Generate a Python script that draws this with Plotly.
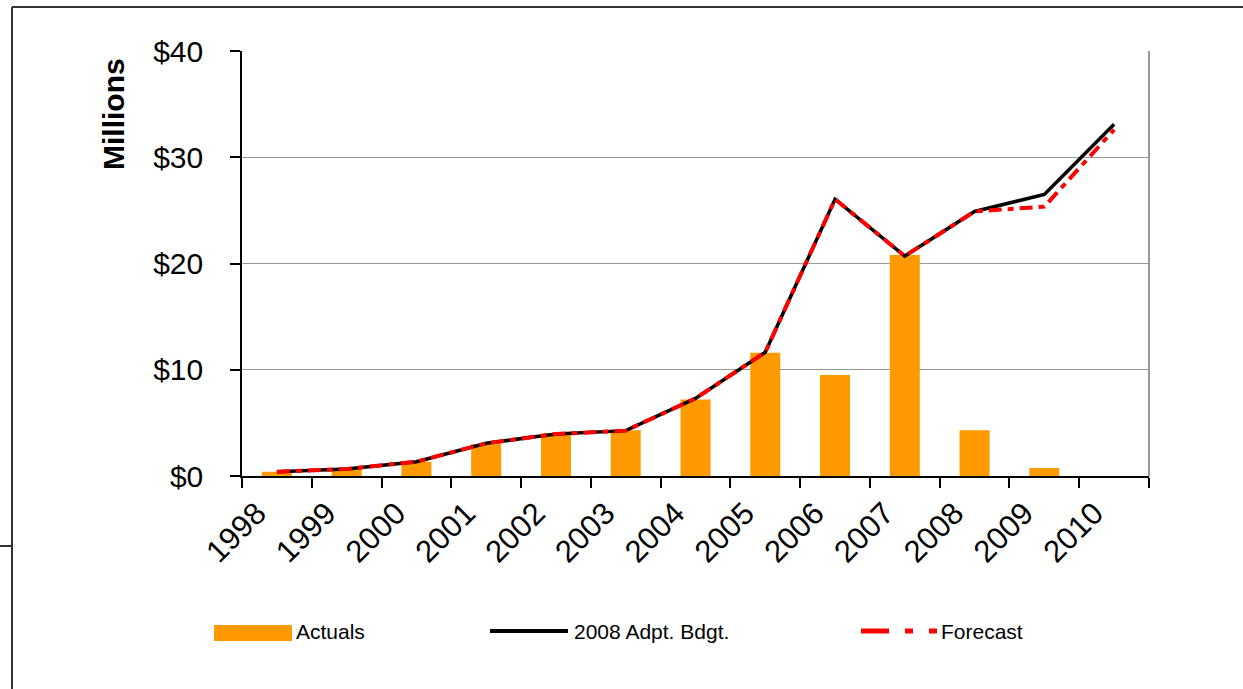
import plotly.graph_objects as go

years = ["1998", "1999", "2000", "2001", "2002", "2003", "2004",
         "2005", "2006", "2007", "2008", "2009", "2010"]
actuals = [0.4, 0.72, 1.35, 3.0, 4.0, 4.3, 7.2, 11.6, 9.5, 20.8, 4.3, 0.75, None]
budget = [0.41, 0.66, 1.35, 3.08, 3.95, 4.27, 7.3, 11.65, 26.05, 20.7, 24.9, 26.5, 33.1]
forecast = [0.41, 0.66, 1.35, 3.08, 3.95, 4.27, 7.3, 11.65, 26.05, 20.7, 24.9, 25.35, 32.6]
y_ticks = [0, 10, 20, 30, 40]
y_ticktext = ["$0", "$10", "$20", "$30", "$40"]

W, H = 1243, 689
L, R, T, B = 242, 94, 51, 213
PW, PH = W - L - R, H - T - B

def px(x):
    return (x - L) / PW

def py(y):
    return (H - B - y) / PH

FONT = "Liberation Sans, Arial, sans-serif"
ORANGE = "#FF9900"

fig = go.Figure()
fig.add_trace(go.Bar(x=years, y=actuals, name="Actuals", marker_color=ORANGE,
                     marker_line_width=0))
fig.add_trace(go.Scatter(x=years, y=budget, name="2008 Adpt. Bdgt.", mode="lines",
                         line=dict(color="black", width=3.5)))
fig.add_trace(go.Scatter(x=years, y=forecast, name="Forecast", mode="lines",
                         line=dict(color="#FF0000", width=4, dash="13px,6px,6px,6px")))

shapes = []
# outer frame (left and top)
shapes.append(dict(type="line", xref="paper", yref="paper", x0=px(12), x1=px(12),
                   y0=py(7), y1=py(700), line=dict(color="#333333", width=2)))
shapes.append(dict(type="line", xref="paper", yref="paper", x0=px(12), x1=px(1250),
                   y0=py(7), y1=py(7), line=dict(color="#333333", width=2)))
shapes.append(dict(type="line", xref="paper", yref="paper", x0=px(0), x1=px(12),
                   y0=py(546), y1=py(546), line=dict(color="#333333", width=2)))
# right border of plot area (gray)
shapes.append(dict(type="line", xref="paper", yref="paper", x0=1, x1=1,
                   y0=0, y1=1, line=dict(color="#999999", width=2)))
# legend symbols
shapes.append(dict(type="rect", xref="paper", yref="paper", x0=px(214), x1=px(292),
                   y0=py(641), y1=py(625), fillcolor=ORANGE, line=dict(width=0)))
shapes.append(dict(type="line", xref="paper", yref="paper", x0=px(490), x1=px(568),
                   y0=py(631), y1=py(631), line=dict(color="black", width=4)))
for a, b in [(861, 889), (905, 913), (929, 937)]:
    shapes.append(dict(type="line", xref="paper", yref="paper", x0=px(a), x1=px(b),
                       y0=py(631), y1=py(631), line=dict(color="#FF0000", width=5)))

annotations = [
    dict(text="<b>Millions</b>", xref="paper", yref="paper", x=px(114), y=py(114),
         textangle=-90, showarrow=False, xanchor="center", yanchor="middle",
         font=dict(family=FONT, size=30, color="black")),
    dict(text="Actuals", xref="paper", yref="paper", x=px(294), y=py(631),
         showarrow=False, xanchor="left", yanchor="middle",
         font=dict(family=FONT, size=21, color="black")),
    dict(text="2008 Adpt. Bdgt.", xref="paper", yref="paper", x=px(572), y=py(631),
         showarrow=False, xanchor="left", yanchor="middle",
         font=dict(family=FONT, size=21, color="black")),
    dict(text="Forecast", xref="paper", yref="paper", x=px(939), y=py(631),
         showarrow=False, xanchor="left", yanchor="middle",
         font=dict(family=FONT, size=21, color="black")),
]

fig.update_layout(
    width=W, height=H,
    margin=dict(l=L, r=R, t=T, b=B, pad=0),
    paper_bgcolor="white", plot_bgcolor="white",
    showlegend=False, bargap=0.57,
    font=dict(family=FONT, color="black"),
    shapes=shapes, annotations=annotations,
)
fig.update_xaxes(
    type="category", tickangle=-45, tickson="boundaries", ticks="outside",
    ticklen=10, tickcolor="black", tickwidth=1.5, showline=True, linecolor="black",
    linewidth=1.5, showgrid=False, tickfont=dict(family=FONT, size=31, color="black"),
    range=[-0.5, 12.5], fixedrange=True, ticklabelshift=-20, ticklabelstandoff=5,
)
fig.update_yaxes(
    range=[0, 40], tickvals=y_ticks, ticktext=y_ticktext, ticks="outside",
    ticklen=10, tickcolor="black", tickwidth=1.5, showline=True, linecolor="black",
    linewidth=1.5, showgrid=True, gridcolor="#999999", gridwidth=1,
    tickfont=dict(family=FONT, size=30, color="black"), zeroline=False,
    ticklabelstandoff=21, fixedrange=True,
)

fig.write_html("out.html", config={"displayModeBar": False},
               post_script="document.body.style.margin='0px';")
